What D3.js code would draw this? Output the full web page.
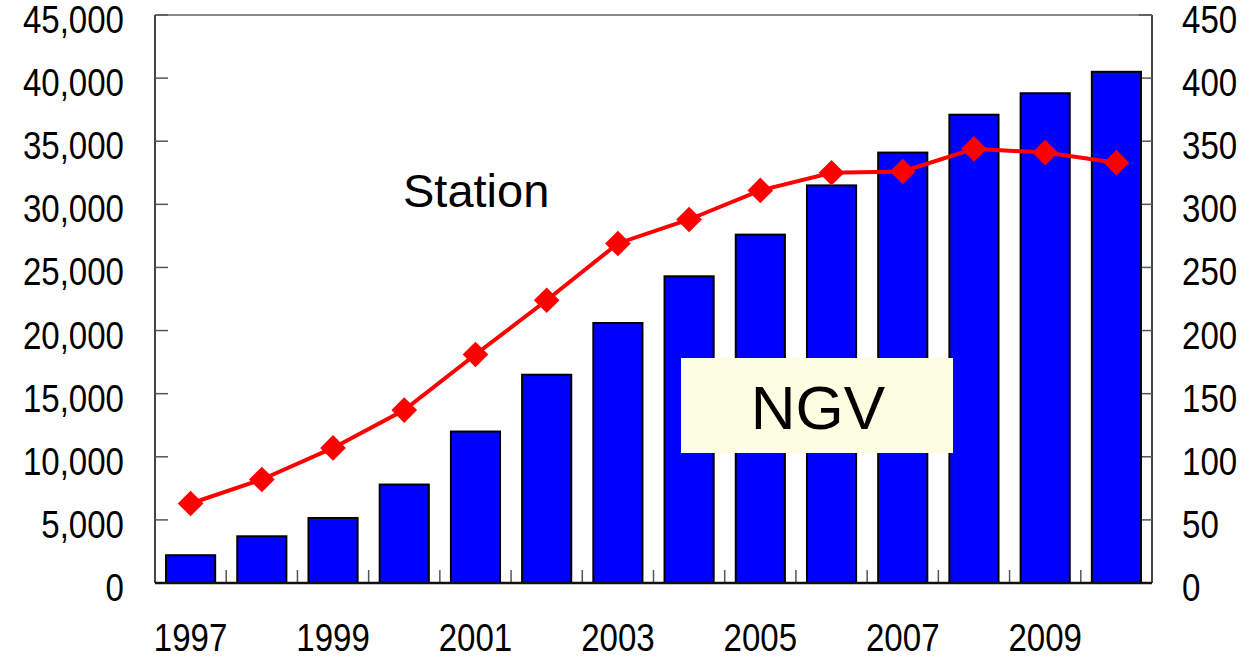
<!DOCTYPE html>
<html>
<head>
<meta charset="utf-8">
<script src="https://cdn.jsdelivr.net/npm/d3@7"></script>
<style>
  body { margin: 0; background: #fff; }
  svg { display: block; }
  .tick-label { font-family: "Liberation Sans", Arial, sans-serif; font-size: 38px; fill: #000; }
</style>
</head>
<body>
<svg></svg>
<script>
var width = 1250;
var height = 659;
var margin = { top: 15, right: 98, bottom: 76, left: 155 };

// NGV vehicles (left axis) and stations (right axis)
var years = [1997, 1998, 1999, 2000, 2001, 2002, 2003, 2004, 2005, 2006, 2007, 2008, 2009, 2010];
var ngv = [2200, 3700, 5150, 7800, 12000, 16500, 20600, 24300, 27600, 31500, 34100, 37100, 38800, 40500];
var stations = [63, 82, 107, 137, 181, 224, 269, 288, 311, 325, 326, 344, 341, 333];
var leftTicks = [0, 5000, 10000, 15000, 20000, 25000, 30000, 35000, 40000, 45000];
var rightTicks = [0, 50, 100, 150, 200, 250, 300, 350, 400, 450];
var yearLabels = [1997, 1999, 2001, 2003, 2005, 2007, 2009];

var squeeze = 0.87; // narrow gothic-like digits

var svg = d3.select('svg')
    .attr('width', width)
    .attr('height', height);

var x0 = margin.left, x1 = width - margin.right;
var yTop = margin.top, yBot = height - margin.bottom;

var x = d3.scaleBand()
    .domain(years)
    .range([x0, x1])
    .paddingInner(0.31)
    .paddingOuter(0.155);

var yL = d3.scaleLinear().domain([0, 45000]).range([yBot, yTop]);
var yR = d3.scaleLinear().domain([0, 450]).range([yBot, yTop]);

// frame
svg.append('line')
    .attr('x1', x0).attr('x2', x1).attr('y1', yTop).attr('y2', yTop)
    .attr('stroke', '#8a8a8a').attr('stroke-width', 2);
svg.append('line')
    .attr('x1', x0).attr('x2', x0).attr('y1', yTop).attr('y2', yBot)
    .attr('stroke', '#444').attr('stroke-width', 2);
svg.append('line')
    .attr('x1', x1).attr('x2', x1).attr('y1', yTop).attr('y2', yBot)
    .attr('stroke', '#444').attr('stroke-width', 2);

// inward ticks
svg.append('g').selectAll('line')
    .data(leftTicks)
  .enter().append('line')
    .attr('x1', x0).attr('x2', x0 + 13)
    .attr('y1', function(d) { return yL(d); })
    .attr('y2', function(d) { return yL(d); })
    .attr('stroke', '#555').attr('stroke-width', 1.5);

svg.append('g').selectAll('line')
    .data(rightTicks)
  .enter().append('line')
    .attr('x1', x1 - 13).attr('x2', x1)
    .attr('y1', function(d) { return yR(d); })
    .attr('y2', function(d) { return yR(d); })
    .attr('stroke', '#555').attr('stroke-width', 1.5);

svg.append('g').selectAll('line')
    .data(years.slice(1))
  .enter().append('line')
    .attr('x1', function(d) { return x(d) - x.step() * x.paddingInner() / 2; })
    .attr('x2', function(d) { return x(d) - x.step() * x.paddingInner() / 2; })
    .attr('y1', yBot).attr('y2', yBot - 13)
    .attr('stroke', '#555').attr('stroke-width', 1.5);

// bars
svg.append('g').selectAll('rect')
    .data(ngv)
  .enter().append('rect')
    .attr('x', function(d, i) { return x(years[i]); })
    .attr('y', function(d) { return yL(d); })
    .attr('width', x.bandwidth())
    .attr('height', function(d) { return yBot - yL(d); })
    .attr('fill', '#0000ff')
    .attr('stroke', '#000')
    .attr('stroke-width', 2);

// bottom axis line
svg.append('line')
    .attr('x1', x0).attr('x2', x1).attr('y1', yBot).attr('y2', yBot)
    .attr('stroke', '#111').attr('stroke-width', 2.5);

// axis labels (squeezed horizontally)
function placed(px, py) {
  return 'translate(' + px + ',' + py + ') scale(' + squeeze + ',1)';
}

var fmt = d3.format(',');
svg.append('g').selectAll('text')
    .data(leftTicks)
  .enter().append('text')
    .attr('class', 'tick-label')
    .attr('transform', function(d) { return placed(124, yL(d) + 18); })
    .attr('text-anchor', 'end')
    .text(function(d) { return fmt(d); });

svg.append('g').selectAll('text')
    .data(rightTicks)
  .enter().append('text')
    .attr('class', 'tick-label')
    .attr('transform', function(d) { return placed(x1 + 30, yR(d) + 18); })
    .attr('text-anchor', 'start')
    .text(function(d) { return d; });

svg.append('g').selectAll('text')
    .data(yearLabels)
  .enter().append('text')
    .attr('class', 'tick-label')
    .attr('transform', function(d) { return placed(x(d) + x.bandwidth() / 2, 651); })
    .attr('text-anchor', 'middle')
    .text(function(d) { return d; });

// station line
var line = d3.line()
    .x(function(d, i) { return x(years[i]) + x.bandwidth() / 2; })
    .y(function(d) { return yR(d); });

svg.append('path')
    .datum(stations)
    .attr('d', line)
    .attr('fill', 'none')
    .attr('stroke', '#ff0000')
    .attr('stroke-width', 4);

var diamond = d3.symbol().type(d3.symbolDiamond2).size(420);
svg.append('g').selectAll('path')
    .data(stations)
  .enter().append('path')
    .attr('d', diamond)
    .attr('transform', function(d, i) {
      return 'translate(' + (x(years[i]) + x.bandwidth() / 2) + ',' + yR(d) + ')';
    })
    .attr('fill', '#ff0000');

// annotations
svg.append('text')
    .attr('x', 403).attr('y', 207)
    .attr('font-family', '"Liberation Sans", Arial, sans-serif')
    .attr('font-size', 47)
    .text('Station');

svg.append('rect')
    .attr('x', 681).attr('y', 358)
    .attr('width', 272).attr('height', 95)
    .attr('fill', '#fdfde2');

svg.append('text')
    .attr('x', 818).attr('y', 429)
    .attr('text-anchor', 'middle')
    .attr('font-family', '"Liberation Sans", Arial, sans-serif')
    .attr('font-size', 62)
    .text('NGV');
</script>
</body>
</html>
